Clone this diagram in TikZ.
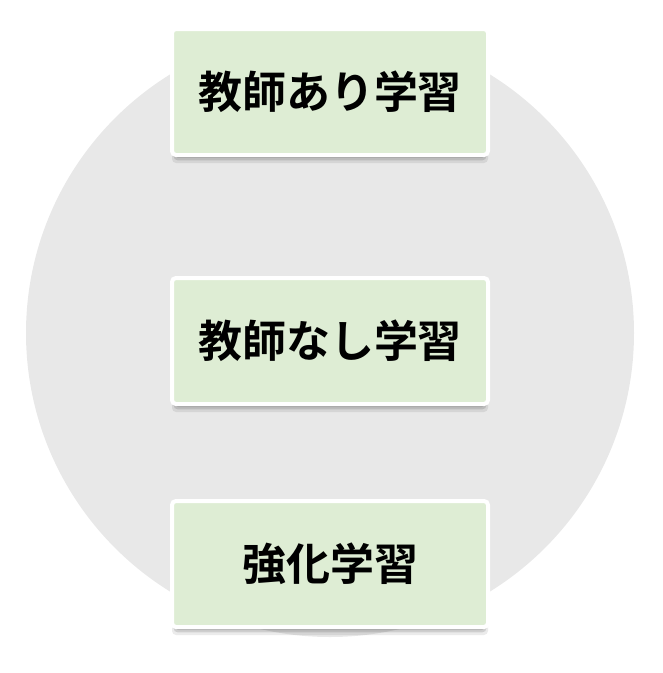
\documentclass[tikz,border=0pt]{standalone}
\usepackage{fontspec}
\newfontfamily\cjk{Noto Sans CJK JP}[BoldFont={Noto Sans CJK JP Bold}]
\usetikzlibrary{shadows}
\definecolor{boxfill}{HTML}{DEEDD4}
\definecolor{circfill}{HTML}{E8E8E8}
\tikzset{
  labelbox/.style={draw=white, line width=4pt, fill=boxfill, rounded corners=4pt,
    minimum width=316pt, minimum height=126pt, inner sep=0pt,
    font=\cjk\bfseries\fontsize{44}{52}\selectfont, text=black,
    general shadow={shadow xshift=0pt, shadow yshift=-8pt, shadow scale=1.0, opacity=0.08, fill=black},
    general shadow={shadow xshift=0pt, shadow yshift=-6pt, shadow scale=0.99, opacity=0.12, fill=black},
    general shadow={shadow xshift=0pt, shadow yshift=-4pt, shadow scale=0.985, opacity=0.15, fill=black}}
}
\begin{document}
\begin{tikzpicture}[x=1pt,y=-1pt]
\useasboundingbox (0,0) rectangle (663,673);
\fill[circfill] (330,333) circle[radius=304];
\node[labelbox] (sup) at (330,92) {教師あり学習};
\node[labelbox] (unsup) at (330,341) {教師なし学習};
\node[labelbox] (rl) at (330,564) {強化学習};
\end{tikzpicture}
\end{document}
